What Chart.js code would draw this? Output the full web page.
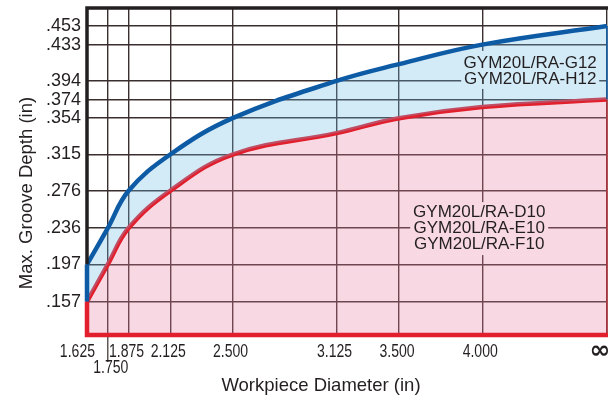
<!DOCTYPE html>
<html>
<head>
<meta charset="utf-8">
<script src="https://cdn.jsdelivr.net/npm/chart.js@4.4.1/dist/chart.umd.min.js"></script>
<style>
  html, body { margin: 0; padding: 0; background: #fff; overflow: hidden; }
</style>
</head>
<body>
<canvas id="depthChart" width="608" height="400"></canvas>
<script>
// Workpiece diameter (in); the last column stands for an infinite diameter
const diameters = [1.625, 1.75, 1.875, 2.125, 2.5, 3.125, 3.5, 4.0, 4.75];
const diameterLabels = ['1.625', '1.750', '1.875', '2.125', '2.500', '3.125', '3.500', '4.000', '∞'];

// Max. groove depth (in) per insert group
const depthG12H12 = [0.197, 0.236, 0.276, 0.315, 0.354, 0.394, 0.412, 0.433, 0.453];
const depthD10E10F10 = [0.157, 0.197, 0.236, 0.276, 0.315, 0.338, 0.354, 0.366, 0.374];

const depthTicks = [0.157, 0.197, 0.236, 0.276, 0.315, 0.354, 0.374, 0.394, 0.433, 0.453];

const groupUpper = ['GYM20L/RA-G12', 'GYM20L/RA-H12'];
const groupLower = ['GYM20L/RA-D10', 'GYM20L/RA-E10', 'GYM20L/RA-F10'];

const INK = '#231f20';
const BLUE = '#0d5ba5';
const RED = '#e21f2c';
const GRID = '#3a2f2f';
const BLUE_FILL = 'rgba(108,185,228,0.3)';
const PINK_FILL = 'rgba(232,125,162,0.3)';
const BLUE_BOX = 'rgb(211,234,247)';
const PINK_BOX = 'rgb(248,216,227)';
const FONT = '"Liberation Sans", Arial, sans-serif';

const toPoints = (ys) => diameters.map((d, i) => ({ x: d, y: ys[i] }));

// frame, left/bottom edges, diameter labels, group captions and axis titles
const framePlugin = {
  id: 'frame',
  afterDatasetsDraw(chart) {
    const { ctx, chartArea: a, scales: { x, y } } = chart;
    const yBlue0 = y.getPixelForValue(depthG12H12[0]);
    const yRed0 = y.getPixelForValue(depthD10E10F10[0]);
    const yBlueN = y.getPixelForValue(depthG12H12[depthG12H12.length - 1]);
    const yRedN = y.getPixelForValue(depthD10E10F10[depthD10E10F10.length - 1]);
    ctx.save();
    ctx.lineCap = 'butt';
    ctx.lineJoin = 'miter';

    // black frame above the upper curve
    ctx.strokeStyle = INK;
    ctx.lineWidth = 3.5;
    ctx.beginPath();
    ctx.moveTo(a.left, yBlue0);
    ctx.lineTo(a.left, a.top);
    ctx.lineTo(a.right + 4, a.top);
    ctx.stroke();

    // right edge
    ctx.lineWidth = 1.5;
    ctx.strokeStyle = BLUE;
    ctx.beginPath();
    ctx.moveTo(a.right, yBlueN);
    ctx.lineTo(a.right, yRedN);
    ctx.stroke();
    ctx.strokeStyle = '#b0303a';
    ctx.beginPath();
    ctx.moveTo(a.right, yRedN);
    ctx.lineTo(a.right, a.bottom);
    ctx.stroke();

    // left edge between the two curves
    ctx.lineWidth = 4.5;
    ctx.strokeStyle = BLUE;
    ctx.beginPath();
    ctx.moveTo(a.left, yBlue0);
    ctx.lineTo(a.left, yRed0);
    ctx.stroke();

    // red edge down the left side and along the bottom
    ctx.strokeStyle = RED;
    ctx.beginPath();
    ctx.moveTo(a.left, yRed0);
    ctx.lineTo(a.left, a.bottom);
    ctx.lineTo(a.right + 4, a.bottom);
    ctx.stroke();

    // leader under the 1.750 label
    const x175 = x.getPixelForValue(diameters[1]);
    ctx.strokeStyle = GRID;
    ctx.lineWidth = 1.2;
    ctx.beginPath();
    ctx.moveTo(x175, a.bottom + 2);
    ctx.lineTo(x175, a.bottom + 27);
    ctx.stroke();

    // diameter labels (condensed)
    ctx.fillStyle = INK;
    ctx.textBaseline = 'middle';
    diameters.forEach((d, i) => {
      const px = x.getPixelForValue(d);
      ctx.save();
      if (i === diameters.length - 1) {
        ctx.font = 'bold 25px "DejaVu Sans", sans-serif';
        ctx.textAlign = 'center';
        ctx.fillText(diameterLabels[i], px - 7, a.bottom + 16);
      } else {
        ctx.font = '18px ' + FONT;
        let lx = px - 2;
        let ly = a.bottom + 17;
        ctx.textAlign = 'center';
        if (i === 0) { ctx.textAlign = 'right'; lx = px + 8; }
        if (i === 1) { lx = px + 3; ly = a.bottom + 33; }
        ctx.translate(lx, ly);
        ctx.scale(0.78, 1);
        ctx.fillText(diameterLabels[i], 0, 0);
      }
      ctx.restore();
    });

    // group captions
    ctx.font = '17px ' + FONT;
    ctx.textAlign = 'center';
    ctx.textBaseline = 'middle';
    const x4 = x.getPixelForValue(4.0);

    const upX = x4 + 48;
    const upY = y.getPixelForValue(0.394) - 2;
    ctx.fillStyle = BLUE_BOX;
    ctx.fillRect(upX - 69, upY - 28, 138, 38);
    ctx.fillStyle = INK;
    groupUpper.forEach((t, i) => ctx.fillText(t, upX, upY - 16 * (groupUpper.length - 1 - i)));

    const loX = x4 - 3;
    const loY = y.getPixelForValue(0.236);
    ctx.fillStyle = PINK_BOX;
    ctx.fillRect(loX - 69, loY - 26, 138, 53);
    ctx.fillStyle = INK;
    groupLower.forEach((t, i) => ctx.fillText(t, loX, loY + 16 * (i - 1)));

    // axis titles
    ctx.font = '18.5px ' + FONT;
    ctx.fillText('Workpiece Diameter (in)', 321, 386);
    ctx.translate(27, 193);
    ctx.rotate(-Math.PI / 2);
    ctx.fillText('Max. Groove Depth (in)', 0, 0);
    ctx.restore();
  }
};

new Chart(document.getElementById('depthChart'), {
  type: 'line',
  data: {
    datasets: [
      {
        label: groupUpper.join(' / '),
        data: toPoints(depthG12H12),
        borderColor: BLUE,
        backgroundColor: BLUE_FILL,
        borderWidth: 4.5,
        fill: '+1',
        pointRadius: 0,
        tension: 0.4
      },
      {
        label: groupLower.join(' / '),
        data: toPoints(depthD10E10F10),
        borderColor: RED,
        backgroundColor: PINK_FILL,
        borderWidth: 4.5,
        fill: 'start',
        pointRadius: 0,
        tension: 0.4
      }
    ]
  },
  options: {
    responsive: false,
    animation: false,
    devicePixelRatio: 1,
    layout: { padding: { left: 0, top: 8, right: 1, bottom: 0 } },
    plugins: { legend: { display: false }, tooltip: { enabled: false } },
    scales: {
      x: {
        type: 'linear',
        min: diameters[0],
        max: diameters[diameters.length - 1],
        afterBuildTicks: (s) => { s.ticks = diameters.map(v => ({ value: v })); },
        afterFit: (s) => { s.height = 65; s.paddingLeft = 0; s.paddingRight = 0; },
        grid: { color: GRID, lineWidth: 1.4, drawTicks: false },
        border: { display: false },
        ticks: { display: false, autoSkip: false, maxRotation: 0 }
      },
      y: {
        type: 'linear',
        min: 0.1212,
        max: 0.4723,
        afterBuildTicks: (s) => { s.ticks = depthTicks.map(v => ({ value: v })); },
        afterFit: (s) => { s.width = 87; s.paddingTop = 0; s.paddingBottom = 0; },
        grid: { color: GRID, lineWidth: 1.4, drawTicks: false },
        border: { display: false },
        ticks: {
          padding: 6,
          color: INK,
          font: { family: FONT, size: 18 },
          callback: (v) => v.toFixed(3).replace(/^0/, '')
        }
      }
    }
  },
  plugins: [framePlugin]
});
</script>
</body>
</html>
